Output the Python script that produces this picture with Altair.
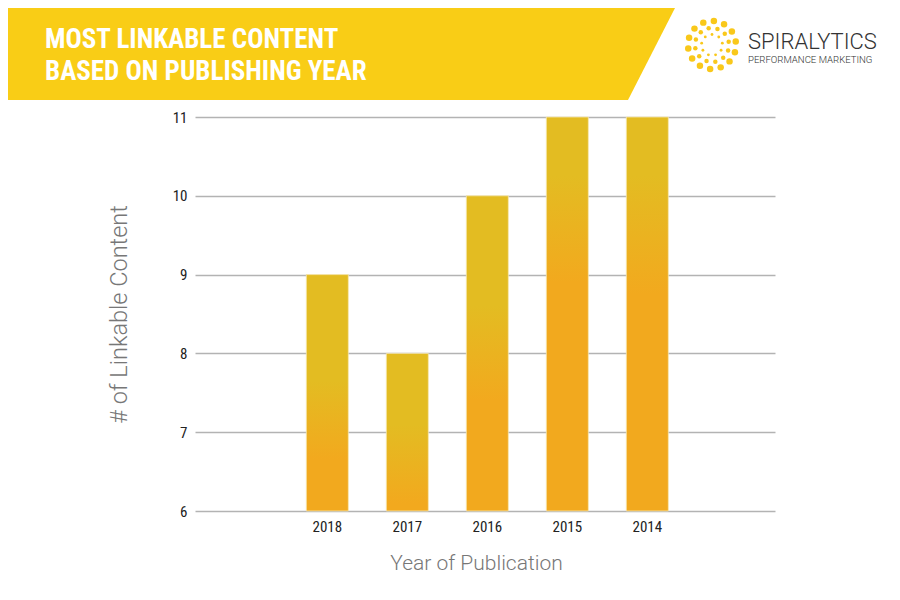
import altair as alt
import pandas as pd
import numpy as np

# ---- data ----
years = ["2018", "2017", "2016", "2015", "2014"]
counts = [9, 8, 10, 11, 11]
title_lines = ["MOST LINKABLE CONTENT", "BASED ON PUBLISHING YEAR"]
y_ticks = [6, 7, 8, 9, 10, 11]

df = pd.DataFrame({"year": years, "count": counts})

ORANGE = "#F2A91E"
YELLOW = "#E3BC22"
BANNER = "#F9CD16"
COND = "Roboto Condensed, Liberation Sans Narrow, Roboto, sans-serif"

# per-bar gradient transition (fraction of bar height: orange end, yellow start)
grad = {"2018": (0.22, 0.55), "2017": (0.05, 0.55), "2016": (0.35, 0.65),
        "2015": (0.58, 0.85), "2014": (0.55, 0.85)}

# empty slots at both ends of the category axis, as in the original
x_domain = ["_L"] + years + ["_R"]
XSCALE = dict(domain=x_domain, paddingInner=0.475, paddingOuter=0.3625, align=0.54)
YSCALE = dict(domain=[6, 11], zero=False, nice=False)

x_enc = alt.X("year:N", scale=alt.Scale(**XSCALE),
              axis=alt.Axis(title="Year of Publication", labelAngle=0, ticks=False,
                            domain=False, labelFont=COND, labelFontSize=15,
                            labelColor="#222", labelPadding=8,
                            labelExpr="slice(datum.value, 0, 1) == '_' ? '' : datum.value",
                            titleFont="Roboto", titleFontWeight=300, titleFontSize=21,
                            titleColor="#777", titlePadding=18, titleX=281))
y_enc = alt.Y("count:Q", scale=alt.Scale(**YSCALE),
              axis=alt.Axis(title="# of Linkable Content", values=y_ticks, ticks=False,
                            format="d",
                            domain=False, grid=True, gridColor="#b3b3b3", gridWidth=1.5,
                            labelFont=COND, labelFontSize=15, labelColor="#222",
                            labelPadding=8, titleFont="Roboto", titleFontWeight=300,
                            titleFontSize=23.5, titleColor="#777", titlePadding=41))

bar_layers = []
for i, yr in enumerate(years):
    a, b = grad[yr]
    g = alt.LinearGradient(gradient="linear",
                           stops=[alt.GradientStop(offset=0, color=ORANGE),
                                  alt.GradientStop(offset=a, color=ORANGE),
                                  alt.GradientStop(offset=b, color=YELLOW),
                                  alt.GradientStop(offset=1, color=YELLOW)],
                           x1=0, x2=0, y1=1, y2=0)
    if i == 0:
        enc = dict(x=x_enc, y=y_enc, y2=alt.datum(6))
    else:
        enc = dict(x=alt.X("year:N", scale=alt.Scale(**XSCALE)),
                   y=alt.Y("count:Q", scale=alt.Scale(**YSCALE)),
                   y2=alt.datum(6))
    bar_layers.append(
        alt.Chart(df).transform_filter(alt.datum.year == yr)
        .mark_bar(color=g, stroke="#f6e7b0", strokeWidth=0.8).encode(**enc)
    )

bars = alt.layer(*bar_layers)

# ---- decoration: banner (plot-pixel coordinates) ----
banner_df = pd.DataFrame({"px": [-187, 433, 480], "top": [-109, -109, -109],
                          "bot": [-17, -17, -109]})
banner = alt.Chart(banner_df).mark_area(color=BANNER, clip=False).encode(
    x=alt.X("px:Q", scale=alt.Scale(domain=[-187, 480], range=[-187, 480]), axis=None),
    y=alt.Y("top:Q", scale=alt.Scale(domain=[-109, -17], range=[-109, -17], zero=False), axis=None),
    y2="bot:Q",
)

title_df = pd.DataFrame({"t": title_lines, "i": [0, 1]})
title = alt.Chart(title_df).mark_text(
    align="left", baseline="middle", font=COND, fontWeight="bold", fontSize=27,
    color="white", clip=False
).encode(
    x=alt.value(-150),
    y=alt.Y("i:Q", scale=alt.Scale(domain=[0, 1], range=[-77, -45]), axis=None),
    text="t:N",
)

# logo dots
rows = []
for r, n, s in [(24, 14, 42), (17, 12, 20), (10.5, 9, 8)]:
    for k in range(n):
        ang = 2 * np.pi * k / n + r * 0.05
        rows.append({"lx": 517 + r * np.cos(ang), "ly": -72 + r * np.sin(ang), "s": s})
logo_df = pd.DataFrame(rows)
logo = alt.Chart(logo_df).mark_circle(color="#F9C81A", opacity=1, clip=False).encode(
    x=alt.X("lx:Q", scale=alt.Scale(domain=[0, 600], range=[0, 600]), axis=None),
    y=alt.Y("ly:Q", scale=alt.Scale(domain=[-100, 0], range=[-100, 0], zero=False), axis=None),
    size=alt.Size("s:Q", scale=None, legend=None),
)
logo_text = alt.Chart(pd.DataFrame({"t": ["SPIRALYTICS", "PERFORMANCE MARKETING"],
                                    "k": [0, 1]})).mark_text(
    align="left", baseline="middle", font="Roboto", fontWeight=300, color="#333", clip=False
).encode(
    x=alt.value(553),
    y=alt.Y("k:Q", scale=alt.Scale(domain=[0, 1], range=[-75, -57]), axis=None),
    text="t:N",
    size=alt.Size("k:Q", scale=alt.Scale(domain=[0, 1], range=[22, 9.6]), legend=None),
)

chart = alt.layer(banner, title, logo, logo_text, bars).resolve_scale(
    x="independent", y="independent", size="independent"
).properties(
    width=580, height=394,
    padding={"left": 187, "top": 109, "right": 117, "bottom": 81},
    autosize=alt.AutoSizeParams(type="none"),
    background="white",
).configure_view(strokeWidth=0)

chart.save("out.html", embed_options={"renderer": "svg", "actions": False})
